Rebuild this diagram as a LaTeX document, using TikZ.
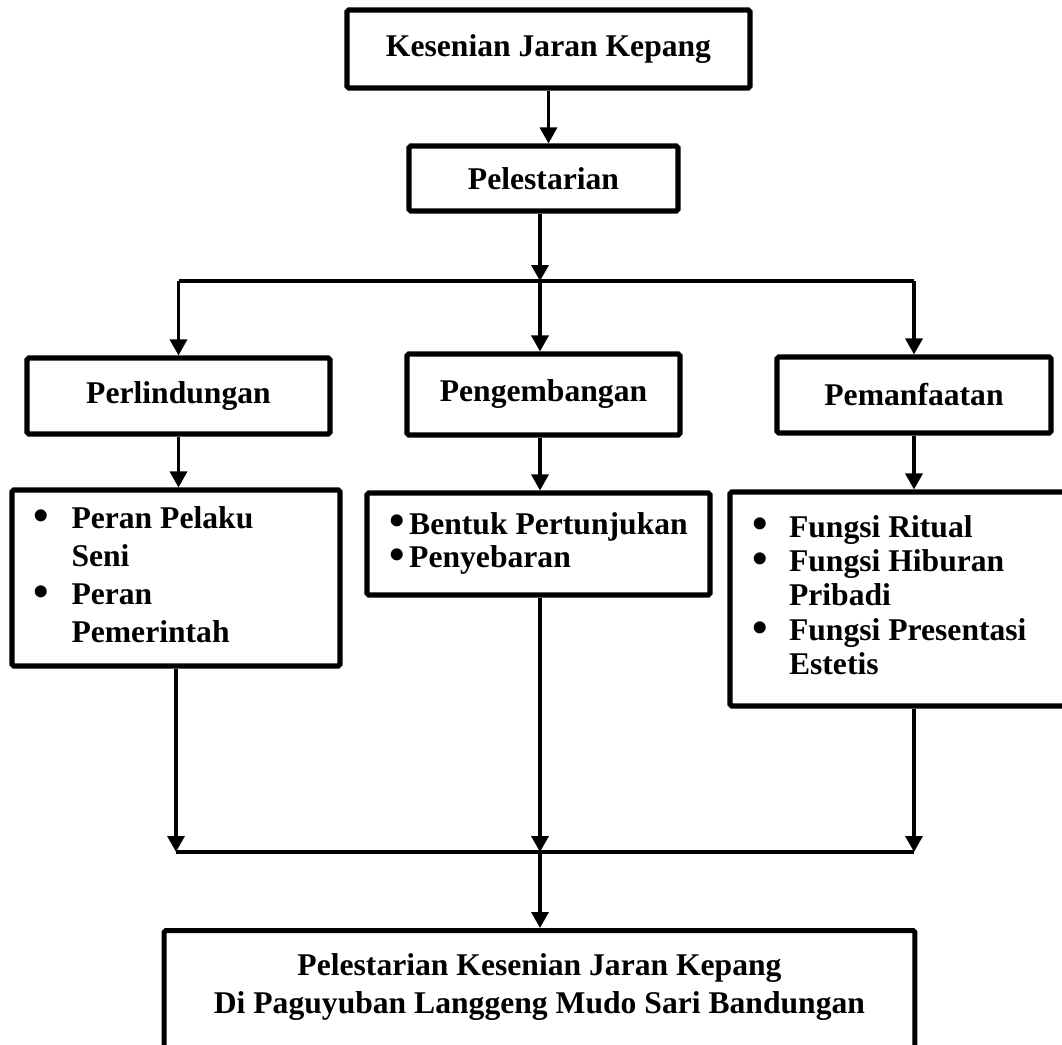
\documentclass[tikz,border=0pt]{standalone}
\usepackage{fontspec}
\usepackage{graphicx}
\setmainfont{Liberation Serif}
\usetikzlibrary{arrows.meta}
\newcommand{\bul}{\raisebox{-0.06em}{\scalebox{1.4}{\textbullet}}}

\begin{document}
\begin{tikzpicture}[x=0.02cm,y=-0.02cm]
\tikzstyle{every node}=[font=\fontsize{18}{21.5}\selectfont\bfseries]
\tikzstyle{box}=[draw,line width=2.9pt,rounded corners=1pt,inner sep=0pt]
\tikzstyle{conn}=[line width=1.9pt]
\tikzstyle{arr}=[conn,-{Triangle[length=0.32cm,width=0.34cm]}]

\useasboundingbox (0,0) rectangle (1062,1045);

% Top of the chart
\node[box,minimum width=8.06cm,minimum height=1.56cm] (kjk) at (548.5,49)
{Kesenian Jaran Kepang};
\node[box,minimum width=5.38cm,minimum height=1.3cm] (pel) at (543.5,178.5)
{Pelestarian};

\coordinate (jt) at (540,281);
\coordinate (jb) at (540,852);

% Three branches
\node[box,minimum width=6.06cm,minimum height=1.52cm] (perl) at (178.5,396)
{Perlindungan};
\node[box,minimum width=5.46cm,minimum height=1.62cm] (peng) at (543.5,394.5)
{Pengembangan};
\node[box,minimum width=5.48cm,minimum height=1.52cm] (pem) at (914,395)
{Pemanfaatan};

% Bullet boxes
\node[box,minimum width=6.56cm,minimum height=3.52cm] (perlb) at (176,578)
{\begin{tabular}{@{}p{0.76cm}@{}p{4.94cm}@{}}
\bul & Peran Pelaku\\ & Seni\\ \bul & Peran\\ & Pemerintah
\end{tabular}};
\node[box,minimum width=6.86cm,minimum height=2.04cm,
  font=\fontsize{18}{18.9}\selectfont\bfseries] (pengb) at (538.5,544)
{\begin{tabular}{@{}p{0.4cm}@{}l@{}}
\bul & Bentuk Pertunjukan\\ \bul & Penyebaran
\end{tabular}};
\node[box,minimum width=7.62cm,minimum height=4.28cm,
  font=\fontsize{18}{19.6}\selectfont\bfseries] (pemb) at (920.5,599)
{\begin{tabular}{@{}p{0.74cm}@{}p{6cm}@{}}
\bul & Fungsi Ritual\\ \bul & Fungsi Hiburan\\ & Pribadi\\
\bul & Fungsi Presentasi\\ & Estetis
\end{tabular}};

% Result box, cut by the page edge
\node[box,anchor=north,minimum width=15.02cm,inner ysep=0.38cm] (out) at (539.5,928)
{\begin{tabular}{c}
Pelestarian Kesenian Jaran Kepang\\ Di Paguyuban Langgeng Mudo Sari Bandungan\\[2cm]
\end{tabular}};

% Arrows
\draw[arr] (kjk.south) -- (kjk.south |- pel.north);
\draw[arr] (jt |- pel.south) -- (jt);
\draw[conn] (perl.north |- jt) -- (pem.north |- jt);
\draw[arr] (perl.north |- jt) -- (perl.north);
\draw[arr] (jt) -- (jt |- peng.north);
\draw[arr] (pem.north |- jt) -- (pem.north);

\draw[arr] (perl.south) -- (perl.south |- perlb.north);
\draw[arr] (jt |- peng.south) -- (jt |- pengb.north);
\draw[arr] (pem.south) -- (pem.south |- pemb.north);

\draw[arr] (perlb.south) -- (perlb.south |- jb);
\draw[arr] (jb |- pengb.south) -- (jb);
\draw[arr] (pem.south |- pemb.south) -- (pem.south |- jb);
\draw[conn] (perlb.south |- jb) -- (pem.south |- jb);
\draw[arr] (jb) -- (jb |- out.north);

\end{tikzpicture}
\end{document}
